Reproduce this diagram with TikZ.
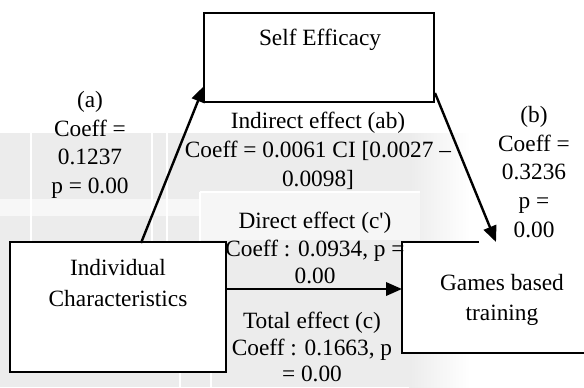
\documentclass[tikz,border=0pt]{standalone}
\usepackage{fontspec}
\setmainfont{Liberation Serif}
\usetikzlibrary{arrows.meta}
\begin{document}
\begin{tikzpicture}[x=0.75pt,y=-0.75pt,
  lbl/.style={align=center, inner sep=0pt},
  bx/.style={draw=black, line width=1.5pt, fill=white},
  conn/.style={line width=1.8pt, -{Triangle[length=12pt,width=10pt]}},
  wline/.style={draw=white, line width=1pt}]
\useasboundingbox (0,0) rectangle (584,387);
% background watermark band
\fill[gray!15] (0,133) rectangle (410,387);
\shade[left color=gray!15, right color=white] (409,133) rectangle (470,387);
\fill[gray!6] (0,199) rectangle (200,216);
\fill[gray!7] (200,192) rectangle (420,240);
\draw[wline] (200,192) -- (420,192) (200,192) -- (200,242);
\draw[wline] (31,133) -- (31,242) (152,133) -- (152,242) (167,133) -- (167,242);
\draw[wline] (180,372) -- (180,387) (211,372) -- (211,387);
% boxes
\node[bx, minimum width=230*0.75pt, minimum height=89*0.75pt] (se) at (319,57.5) {};
\node[lbl, font=\fontsize{17.5}{21.5}\selectfont] (setxt) at (320,40) {Self Efficacy};
\node[bx, minimum width=216*0.75pt, minimum height=130*0.75pt] (ic) at (118,307) {};
\node[lbl, font=\fontsize{17.5}{23}\selectfont] (ictxt) at (118,283) {Individual\\Characteristics};
\fill[white] (402,242) rectangle (584,353);
\node[lbl, font=\fontsize{17.5}{22.5}\selectfont] (gb) at (502,300) {Games based\\training};
\draw[line width=1.5pt] (479,242) -- (402,242) -- (402,353) -- (590,353);
\coordinate (gbleft) at (402,289);
% labels
\node[lbl, font=\fontsize{17.5}{21.5}\selectfont] (la) at (90,145) {(a)\\Coeff =\\0.1237\\p = 0.00};
\node[lbl, font=\fontsize{17.5}{21.5}\selectfont] (lab) at (318,151) {Indirect effect (ab)\\Coeff = 0.0061 CI [0.0027 --\\0.0098]};
\node[lbl, font=\fontsize{17.5}{21.4}\selectfont] (lb) at (534,172) {(b)\\Coeff =\\0.3236\\p =\\0.00};
\node[lbl, font=\fontsize{17.5}{20.6}\selectfont] (lc1) at (315,248) {Direct effect (c\textquotesingle)\\Coeff : 0.0934, p =\\0.00};
\node[lbl, font=\fontsize{17.5}{20}\selectfont] (lc) at (312,347) {Total effect (c)\\Coeff : 0.1663, p\\= 0.00};
% connectors
\coordinate (a0) at (141,243);
\coordinate (a1) at (204,86);
\coordinate (b0) at (435,93);
\coordinate (b1) at (496,242);
\coordinate (c0) at (226,289);
\draw[conn] (a0) -- (a1);
\draw[conn] (b0) -- (b1);
\draw[conn] (c0) -- (gbleft);
\end{tikzpicture}
\end{document}
